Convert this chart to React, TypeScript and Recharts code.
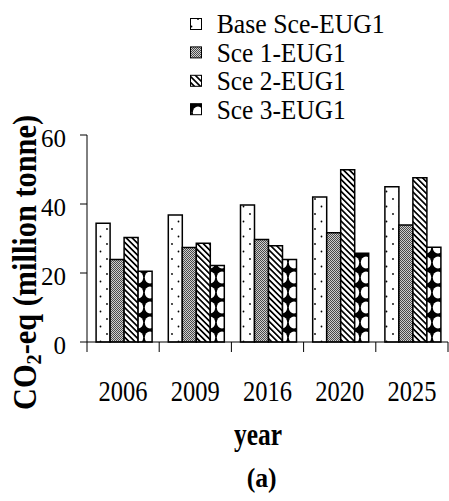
import React from 'react';
import { BarChart, Bar, XAxis, YAxis, Legend } from 'recharts';

const YEARS = ['2006', '2009', '2016', '2020', '2025'];
const BASE_SCE = [34.4, 36.8, 39.7, 42.0, 45.0];
const SCE_1 = [23.9, 27.4, 29.7, 31.7, 33.9];
const SCE_2 = [30.3, 28.6, 27.9, 49.9, 47.6];
const SCE_3 = [20.5, 22.2, 23.9, 25.7, 27.5];
const SERIES_NAMES = ['Base Sce-EUG1', 'Sce 1-EUG1', 'Sce 2-EUG1', 'Sce 3-EUG1'];
const Y_TICKS = [0, 20, 40, 60];

const data = YEARS.map((year, i) => ({
  year,
  base: BASE_SCE[i],
  sce1: SCE_1[i],
  sce2: SCE_2[i],
  sce3: SCE_3[i],
}));

const KEYS = ['base', 'sce1', 'sce2', 'sce3'];
const FONT = "'Liberation Serif', 'Times New Roman', Times, serif";
const TXT = { fontFamily: FONT };
const W = 449;
const H = 501;
const PLOT_LEFT = 87;
const PLOT_RIGHT = 448;
const BAND = (PLOT_RIGHT - PLOT_LEFT) / YEARS.length;

// hatch fills that mimic the old b/w excel patterns
const Patterns = ({ prefix }: { prefix: string }) => (
  <defs>
    <pattern id={`${prefix}-base`} width={13} height={15} patternUnits="userSpaceOnUse">
      <rect width={13} height={15} fill="#fff" />
      <circle cx={3} cy={4} r={0.9} fill="#000" />
      <circle cx={9.5} cy={11.5} r={0.9} fill="#000" />
    </pattern>
    <pattern id={`${prefix}-sce1`} width={2} height={2} patternUnits="userSpaceOnUse">
      <rect width={2} height={2} fill="#cfcfcf" />
      <rect x={0} y={0} width={1} height={1} fill="#4a4a4a" />
      <rect x={1} y={1} width={1} height={1} fill="#4a4a4a" />
    </pattern>
    <pattern
      id={`${prefix}-sce2`}
      width={4.2}
      height={4.2}
      patternUnits="userSpaceOnUse"
      patternTransform="rotate(-45)"
    >
      <rect width={4.2} height={4.2} fill="#fff" />
      <rect x={0} y={0} width={1.7} height={4.2} fill="#000" />
    </pattern>
    <pattern id={`${prefix}-sce3`} width={12} height={15} patternUnits="userSpaceOnUse">
      <rect width={12} height={15} fill="#000" />
      <ellipse cx={6} cy={7.5} rx={5.2} ry={6} fill="#fff" />
    </pattern>
  </defs>
);

const XTick = (props: any) => {
  const { x, y, payload, index } = props;
  const half = BAND / 2;
  return (
    <g>
      <line x1={x - half} y1={y} x2={x - half} y2={y + 10} stroke="#000" strokeWidth={1} />
      {index === YEARS.length - 1 && (
        <line x1={x + half} y1={y} x2={x + half} y2={y + 10} stroke="#000" strokeWidth={1} />
      )}
      <text
        x={x}
        y={y + 58.7}
        textAnchor="middle"
        style={TXT}
        fontSize={30}
        fill="#000"
        textLength={49}
        lengthAdjust="spacingAndGlyphs"
      >
        {payload.value}
      </text>
    </g>
  );
};

const YTick = (props: any) => {
  const { x, y, payload } = props;
  return (
    <text x={x} y={y + 11.6} textAnchor="end" style={TXT} fontSize={25} fill="#000">
      {payload.value}
    </text>
  );
};

const YLabel = () => (
  <text
    x={36}
    y={262.5}
    transform="rotate(-90, 36, 262.5)"
    textAnchor="middle"
    style={TXT}
    fontWeight="bold"
    fontSize={33}
    fill="#000"
    textLength={295}
    lengthAdjust="spacingAndGlyphs"
  >
    CO
    <tspan fontSize={22} dy={5}>2</tspan>
    <tspan dy={-5}>-eq (million tonne)</tspan>
  </text>
);

const XLabel = () => (
  <g>
    <text
      x={258}
      y={445}
      textAnchor="middle"
      style={TXT}
      fontWeight="bold"
      fontSize={31}
      fill="#000"
      textLength={48}
      lengthAdjust="spacingAndGlyphs"
    >
      year
    </text>
    <text
      x={261.7}
      y={487}
      textAnchor="middle"
      style={TXT}
      fontWeight="bold"
      fontSize={28}
      fill="#000"
      textLength={30}
      lengthAdjust="spacingAndGlyphs"
    >
      (a)
    </text>
  </g>
);

const LEGEND_TEXT_LEN = [168, 129, 129, 129];

const LegendBox = (props: any) => {
  const payload = props.payload || [];
  return (
    <svg width={W} height={125} style={{ display: 'block' }}>
      <Patterns prefix="lg" />
      {payload.map((entry: any, i: number) => {
        const cy = 24 + i * 28.4;
        return (
          <g key={`lg-${i}`}>
            <rect
              x={190.5}
              y={cy - 5.5}
              width={11}
              height={11}
              fill={`url(#lg-${KEYS[i]})`}
              stroke="#000"
              strokeWidth={1}
            />
            <text
              x={216.7}
              y={cy + 9.3}
              style={TXT}
              fontSize={28}
              fill="#000"
              textLength={LEGEND_TEXT_LEN[i]}
              lengthAdjust="spacingAndGlyphs"
            >
              {entry.value}
            </text>
          </g>
        );
      })}
    </svg>
  );
};

export default function App() {
  return (
    <div
      style={{ position: 'absolute', left: 0, top: 0, width: W, height: H, background: '#fff', fontFamily: FONT }}
    >
      <BarChart
        width={W}
        height={H}
        data={data}
        margin={{ top: 135, right: W - PLOT_RIGHT, bottom: 0, left: 0 }}
        barCategoryGap="12.6%"
        barGap={0}
      >
        <Patterns prefix="bar" />
        <XAxis
          dataKey="year"
          height={159}
          interval={0}
          tickLine={false}
          tickSize={0}
          tickMargin={0}
          tick={<XTick />}
          axisLine={{ stroke: '#000', strokeWidth: 1 }}
          label={<XLabel />}
        />
        <YAxis
          width={PLOT_LEFT}
          domain={[0, 60]}
          ticks={Y_TICKS}
          interval={0}
          tickSize={7}
          tickMargin={14}
          tick={<YTick />}
          tickLine={{ stroke: '#000', strokeWidth: 1 }}
          axisLine={{ stroke: '#000', strokeWidth: 1 }}
          label={<YLabel />}
        />
        <Legend
          layout="vertical"
          align="center"
          verticalAlign="middle"
          wrapperStyle={{ left: 0, top: 0, width: W }}
          content={<LegendBox />}
        />
        {KEYS.map((k, i) => (
          <Bar
            key={k}
            dataKey={k}
            name={SERIES_NAMES[i]}
            fill={`url(#bar-${k})`}
            stroke="#000"
            strokeWidth={1.5}
            isAnimationActive={false}
          />
        ))}
      </BarChart>
    </div>
  );
}
